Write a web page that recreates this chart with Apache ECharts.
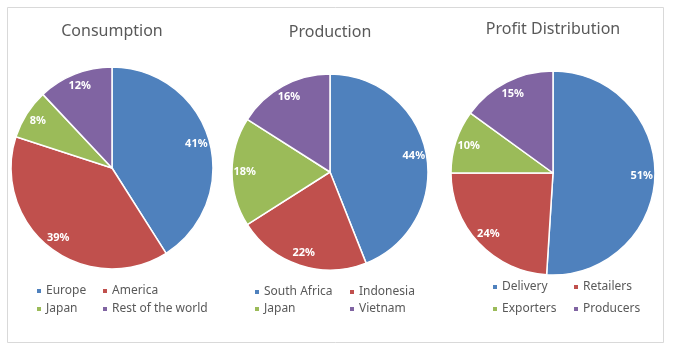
<!DOCTYPE html>
<html>
<head>
<meta charset="utf-8">
<script src="https://cdn.jsdelivr.net/npm/echarts@6/dist/echarts.min.js"></script>
<style>
html, body { margin: 0; padding: 0; background: #fff; }
#main { width: 680px; height: 353px; }
</style>
</head>
<body>
<div id="main"></div>
<script>
var colors = ['#4F81BD', '#C0504D', '#9BBB59', '#8064A2'];

var consumptionNames = ['Europe', 'America', 'Japan', 'Rest of the world'];
var consumptionValues = [41, 39, 8, 12];

var productionNames = ['South Africa', 'Indonesia', 'Japan', 'Vietnam'];
var productionValues = [44, 22, 18, 16];

var profitNames = ['Delivery', 'Retailers', 'Exporters', 'Producers'];
var profitValues = [51, 24, 10, 15];

var titles = ['Consumption', 'Production', 'Profit Distribution'];

function toData(names, values, transparent) {
    return names.map(function (n, i) {
        return { name: n, value: values[i],
                 itemStyle: { color: transparent ? 'rgba(0,0,0,0)' : colors[i] } };
    });
}

// pie geometry per panel
var pies = [
    { names: consumptionNames, values: consumptionValues, cx: 112, cy: 168, r: 101, titleY: 23,
      legX: [35, 101], legY: 284, legGap: 4 },
    { names: productionNames, values: productionValues, cx: 330, cy: 172, r: 98, titleY: 24,
      legX: [253, 348], legY: 285, legGap: 3 },
    { names: profitNames, values: profitValues, cx: 553, cy: 173, r: 102, titleY: 21,
      legX: [491, 572], legY: 280, legGap: 8 }
];

var series = [];
var legends = [];
var titleList = [];

pies.forEach(function (p, k) {
    series.push({
        name: titles[k],
        type: 'pie',
        center: [p.cx, p.cy],
        radius: p.r,
        startAngle: 90,
        clockwise: true,
        data: toData(p.names, p.values, false),
        label: { show: false },
        labelLine: { show: false },
        itemStyle: { borderColor: '#fff', borderWidth: 1.5 },
        emphasis: { disabled: true },
        animation: false
    });
    // transparent twin pie, used only to put the labels further out
    series.push({
        name: titles[k] + ' labels',
        type: 'pie',
        center: [p.cx, p.cy],
        radius: p.r * 1.68,
        startAngle: 90,
        clockwise: true,
        silent: true,
        data: toData(p.names, p.values, true),
        label: {
            show: true,
            position: 'inside',
            formatter: '{c}%',
            color: '#fff',
            fontWeight: 'bold',
            fontSize: 11,
            fontFamily: 'Noto Sans'
        },
        labelLine: { show: false },
        emphasis: { disabled: true },
        animation: false
    });
    titleList.push({
        text: titles[k],
        left: p.cx,
        top: p.titleY,
        padding: 0,
        textAlign: 'center',
        textStyle: { fontFamily: 'Noto Sans', fontSize: 16, fontWeight: 'normal', color: '#595959' }
    });
    [[p.names[0], p.names[2]], [p.names[1], p.names[3]]].forEach(function (col, c) {
        legends.push({
            orient: 'vertical',
            left: p.legX[c],
            top: p.legY,
            padding: 0,
            itemGap: p.legGap,
            itemWidth: 6,
            itemHeight: 6,
            icon: 'rect',
            selectedMode: false,
            data: col,
            textStyle: { fontFamily: 'Noto Sans', fontSize: 12, color: '#595959', lineHeight: 14, padding: [0, 0, 0, -1] }
        });
    });
});

var myChart = echarts.init(document.getElementById('main'), null, { renderer: 'canvas' });
var option = {
    backgroundColor: '#fff',
    title: titleList,
    legend: legends,
    series: series,
    graphic: [{
        type: 'rect',
        shape: { x: 7.5, y: 7.5, width: 656, height: 335 },
        style: { fill: 'none', stroke: '#d9d9d9', lineWidth: 1 },
        silent: true
    }]
};
myChart.setOption(option);
</script>
</body>
</html>
